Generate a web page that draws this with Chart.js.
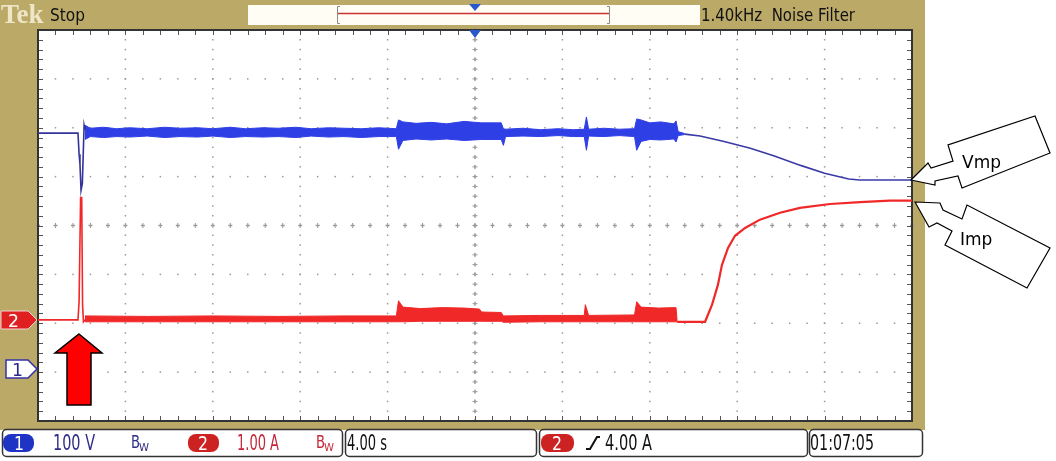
<!DOCTYPE html>
<html>
<head>
<meta charset="utf-8">
<script src="https://cdn.jsdelivr.net/npm/chart.js@4.4.1/dist/chart.umd.min.js"></script>
<style>
  html, body { margin: 0; padding: 0; background: #fff; }
  #scope { display: block; }
</style>
</head>
<body>
<canvas id="scope" width="1056" height="461"></canvas>
<script>
// time in seconds (4.00 s/div, 10 div), ch1 in volts (100 V/div), ch2 in amps (1.00 A/div)
const ch1StepT = [0, 1.83, 1.88, 1.92, 1.97, 2.03, 2.11, 2.15];
const ch1StepV = [483, 483, 440, 420, 366, 380, 499, 490];

const ch1NoiseT  = [2.15, 2.4, 3.0, 3.6, 4.2, 5.0, 5.8, 6.5, 7.3, 8.0, 8.8, 9.5, 10.3, 11.0, 11.8, 12.5, 13.3, 14.0, 14.8, 15.6,
                    16.4, 16.5, 16.7, 17.3, 18.0, 18.7, 19.5, 20.3, 21.2, 21.3, 21.4, 22.2, 23.0, 23.8, 24.5,
                    25.0, 25.1, 25.2, 25.9, 26.6, 27.3, 27.4, 27.6, 28.0, 28.5, 29.1, 29.2, 29.3, 29.6];
const ch1NoiseHi = [499, 493, 495, 492, 494, 492, 495, 493, 494, 492, 495, 492, 494, 493, 495, 492, 494, 493, 492, 494,
                    492, 510, 506, 503, 505, 502, 507, 504, 504, 492, 491, 493, 490, 492, 490,
                    491, 516, 491, 493, 491, 492, 512, 510, 504, 506, 502, 508, 486, 482];
const ch1NoiseLo = [470, 476, 474, 476, 475, 477, 474, 476, 475, 477, 474, 476, 475, 476, 474, 477, 475, 476, 474, 476,
                    476, 450, 468, 471, 469, 471, 468, 470, 470, 458, 476, 477, 476, 478, 476,
                    476, 448, 477, 476, 478, 476, 448, 466, 470, 469, 471, 465, 478, 480];

const ch1SlopeT = [29.6, 30.3, 31.4, 32.6, 33.7, 34.9, 36.0, 37.1, 37.6, 40];
const ch1SlopeV = [481, 477, 466, 452, 436, 417, 401, 389, 387, 387];

const ch2StepT = [0, 1.83, 1.88, 1.95, 2.0, 2.04, 2.08, 2.15];
const ch2StepA = [0, 0, 0.37, 2.50, 2.50, 0.30, -0.04, 0.0];

const ch2NoiseT  = [2.15, 5.0, 8.0, 11.0, 14.0, 16.4, 16.5, 16.7, 17.5, 18.5, 19.5, 20.2, 20.3, 21.2, 21.3, 23.0,
                    25.0, 25.05, 25.2, 27.3, 27.4, 27.6, 28.4, 29.2, 29.25];
const ch2NoiseHi = [0.08, 0.07, 0.08, 0.07, 0.08, 0.08, 0.39, 0.26, 0.23, 0.25, 0.24, 0.22, 0.16, 0.15, 0.08, 0.09,
                    0.09, 0.31, 0.09, 0.10, 0.37, 0.26, 0.24, 0.25, -0.02];
const ch2NoiseLo = [-0.04, -0.04, -0.04, -0.04, -0.04, -0.04, -0.04, -0.04, -0.03, -0.03, -0.03, -0.03, -0.03, -0.03, -0.05, -0.04,
                    -0.04, -0.04, -0.04, -0.04, -0.04, -0.04, -0.04, -0.04, -0.04];

const ch2RiseT = [29.25, 30.53, 30.85, 31.12, 31.30, 31.58, 31.90, 32.36, 33.04, 33.96, 34.87, 36.25, 37.62, 38.99, 40];
const ch2RiseA = [-0.04, -0.04, 0.31, 0.72, 1.12, 1.47, 1.72, 1.88, 2.05, 2.19, 2.29, 2.37, 2.41, 2.44, 2.44];

const TAN = '#bba968';
const BLUE = '#2f3fe6';
const RED = '#f02828';
const FONT = '"DejaVu Sans", sans-serif';

function pts(t, v) {
  return t.map((x, i) => ({ x: x, y: v[i] }));
}

function roundBox(ctx, x, y, w, h, r) {
  ctx.beginPath();
  ctx.roundRect(x, y, w, h, r);
}

function poly(ctx, p) {
  ctx.beginPath();
  ctx.moveTo(p[0][0], p[0][1]);
  for (let i = 1; i < p.length; i++) ctx.lineTo(p[i][0], p[i][1]);
  ctx.closePath();
}

// squeezed text, like the scope's narrow font
function narrow(ctx, txt, x, y, size, width) {
  ctx.font = size + 'px ' + FONT;
  ctx.fillText(txt, x, y, width);
}

const screenPlugin = {
  id: 'screen',
  beforeDraw(chart) {
    const ctx = chart.ctx;
    const a = chart.chartArea;
    ctx.save();
    ctx.fillStyle = '#fff';
    ctx.fillRect(0, 0, chart.width, chart.height);
    ctx.fillStyle = TAN;
    ctx.fillRect(0, 0, 925, 430);
    ctx.fillStyle = '#fff';
    ctx.fillRect(a.left, a.top, a.right - a.left, a.bottom - a.top);
    ctx.restore();
  },
  beforeDatasetsDraw(chart) {
    const ctx = chart.ctx;
    const a = chart.chartArea;
    const dx = (a.right - a.left) / 10;
    const dy = (a.bottom - a.top) / 8;
    ctx.save();
    ctx.fillStyle = '#9a9a9a';
    for (let i = 1; i < 10; i++) {
      if (i === 5) continue;
      const x = a.left + i * dx;
      for (let j = 0; j <= 40; j++) {
        const y = a.top + j * dy / 5;
        ctx.fillRect(x - 0.75, y - 0.75, 1.5, 1.5);
      }
    }
    for (let j = 1; j < 8; j++) {
      if (j === 4) continue;
      const y = a.top + j * dy;
      for (let i = 0; i <= 50; i++) {
        const x = a.left + i * dx / 5;
        ctx.fillRect(x - 0.75, y - 0.75, 1.5, 1.5);
      }
    }
    // centre cross with minor ticks
    const cx = a.left + 5 * dx, cy = a.top + 4 * dy;
    ctx.fillStyle = '#999';
    for (let j = 0; j <= 40; j++) ctx.fillRect(cx - 0.75, a.top + j * dy / 5 - 2, 1.5, 4);
    for (let j = 0; j <= 40; j++) ctx.fillRect(cx - 2.5, a.top + j * dy / 5 - 0.5, 5, 1);
    for (let i = 0; i <= 50; i++) ctx.fillRect(a.left + i * dx / 5 - 2, cy - 0.75, 4, 1.5);
    for (let i = 0; i <= 50; i++) ctx.fillRect(a.left + i * dx / 5 - 0.5, cy - 2.5, 1, 5);
    // edge ticks
    ctx.strokeStyle = '#555';
    ctx.lineWidth = 1;
    ctx.beginPath();
    for (let j = 1; j < 40; j++) {
      const y = Math.round(a.top + j * dy / 5) + 0.5;
      ctx.moveTo(a.left, y); ctx.lineTo(a.left + 5, y);
      ctx.moveTo(a.right, y); ctx.lineTo(a.right - 5, y);
    }
    for (let i = 1; i < 50; i++) {
      const x = Math.round(a.left + i * dx / 5) + 0.5;
      ctx.moveTo(x, a.top); ctx.lineTo(x, a.top + 5);
      ctx.moveTo(x, a.bottom); ctx.lineTo(x, a.bottom - 5);
    }
    ctx.stroke();
    ctx.strokeStyle = '#333';
    ctx.lineWidth = 2;
    ctx.strokeRect(a.left, a.top, a.right - a.left, a.bottom - a.top);
    ctx.restore();
  },
  afterDraw(chart) {
    const ctx = chart.ctx;
    const a = chart.chartArea;
    const cx = (a.left + a.right) / 2;
    ctx.save();
    ctx.textBaseline = 'alphabetic';

    // ---- top bar
    ctx.font = 'bold 27px "Liberation Serif", serif';
    ctx.fillStyle = '#eee6c6';
    ctx.fillText('Tek', 1, 23, 45);
    ctx.fillStyle = '#111';
    narrow(ctx, 'Stop', 50, 21, 17, 35);
    narrow(ctx, '1.40kHz  Noise Filter', 701, 21, 18, 154);

    ctx.fillStyle = '#fffdf4';
    ctx.fillRect(248, 5, 452, 20);
    ctx.strokeStyle = '#8a8a8a';
    ctx.lineWidth = 1;
    ctx.beginPath();
    ctx.moveTo(340, 6.5); ctx.lineTo(337.5, 6.5); ctx.lineTo(337.5, 23.5); ctx.lineTo(340, 23.5);
    ctx.moveTo(607, 6.5); ctx.lineTo(609.5, 6.5); ctx.lineTo(609.5, 23.5); ctx.lineTo(607, 23.5);
    ctx.stroke();
    ctx.strokeStyle = '#cc3333';
    ctx.lineWidth = 1.5;
    ctx.beginPath();
    ctx.moveTo(338, 13.5); ctx.lineTo(609, 13.5);
    ctx.stroke();
    ctx.fillStyle = '#2b58c8';
    poly(ctx, [[cx - 6, 4], [cx + 6, 4], [cx, 11]]); ctx.fill();
    poly(ctx, [[cx - 6, a.top], [cx + 6, a.top], [cx, a.top + 8]]); ctx.fill();

    // ---- left ground markers
    ctx.fillStyle = '#e02020';
    poly(ctx, [[1, 311], [28, 311], [37, 320], [28, 329], [1, 329]]); ctx.fill();
    ctx.strokeStyle = '#f5d0d0'; ctx.lineWidth = 1; ctx.stroke();
    ctx.fillStyle = '#fff';
    narrow(ctx, '2', 8, 327, 18, 11);
    ctx.fillStyle = '#fff';
    poly(ctx, [[6, 360], [28, 360], [37, 369], [28, 378], [6, 378]]); ctx.fill();
    ctx.strokeStyle = '#3434a8'; ctx.lineWidth = 1.5; ctx.stroke();
    ctx.fillStyle = '#28288c';
    narrow(ctx, '1', 12, 376, 18, 11);

    // ---- red arrow
    poly(ctx, [[79, 334], [102, 353], [91, 353], [91, 405], [67, 405], [67, 353], [55, 353]]);
    ctx.fillStyle = '#ff0000'; ctx.fill();
    ctx.strokeStyle = '#000'; ctx.lineWidth = 1.5; ctx.stroke();

    // ---- bottom bar
    ctx.strokeStyle = '#333';
    ctx.lineWidth = 1.5;
    ctx.fillStyle = '#fff';
    [[2, 342], [345, 536], [539, 807], [809, 922]].forEach(b => {
      roundBox(ctx, b[0] + 0.5, 429.5, b[1] - b[0], 27, 4);
      ctx.fill(); ctx.stroke();
    });
    ctx.fillStyle = '#1f33c4';
    roundBox(ctx, 3, 434, 31, 18, 8); ctx.fill();
    ctx.fillStyle = '#cc2222';
    roundBox(ctx, 188, 434, 31, 18, 8); ctx.fill();
    roundBox(ctx, 541, 434, 33, 18, 8); ctx.fill();
    ctx.fillStyle = '#fff';
    narrow(ctx, '1', 14, 450, 20, 10);
    narrow(ctx, '2', 198, 450, 20, 10);
    narrow(ctx, '2', 552, 450, 20, 10);
    ctx.fillStyle = '#2e2e86';
    narrow(ctx, '100 V', 53, 450, 22, 42);
    narrow(ctx, 'B', 131, 448, 17, 9);
    narrow(ctx, 'W', 139, 451, 11, 10);
    ctx.fillStyle = '#c4283a';
    narrow(ctx, '1.00 A', 237, 450, 22, 42);
    narrow(ctx, 'B', 316, 448, 17, 9);
    narrow(ctx, 'W', 324, 451, 11, 10);
    ctx.fillStyle = '#111';
    narrow(ctx, '4.00 s', 347, 450, 22, 40);
    narrow(ctx, '4.00 A', 605, 450, 22, 47);
    narrow(ctx, '01:07:05', 810, 450, 22, 64);
    ctx.strokeStyle = '#111';
    ctx.lineWidth = 2;
    ctx.beginPath();
    ctx.moveTo(586, 449); ctx.lineTo(590, 449); ctx.lineTo(597, 437); ctx.lineTo(600, 437);
    ctx.stroke();

    // ---- callouts
    ctx.lineWidth = 1.2;
    ctx.strokeStyle = '#000';
    ctx.fillStyle = '#fff';
    poly(ctx, [[911, 180], [928, 163], [931, 168], [953, 161], [948, 145], [1035, 116], [1050, 153], [962, 188], [958, 176], [935, 181], [935, 185]]);
    ctx.fill(); ctx.stroke();
    poly(ctx, [[915, 202], [940, 203], [943, 210], [962, 219], [967, 205], [1050, 248], [1027, 288], [945, 245], [952, 231], [937, 223], [929, 227]]);
    ctx.fill(); ctx.stroke();
    ctx.fillStyle = '#000';
    ctx.font = '17px "DejaVu Sans", sans-serif';
    ctx.fillText('Vmp', 962, 168);
    ctx.fillText('Imp', 960, 245);
    ctx.restore();
  }
};

const lineStyle = { pointRadius: 0, tension: 0, borderWidth: 1.6, fill: false };

new Chart(document.getElementById('scope'), {
  type: 'line',
  data: {
    datasets: [
      Object.assign({ data: pts(ch1StepT, ch1StepV), borderColor: '#34349a', yAxisID: 'y1' }, lineStyle),
      Object.assign({}, lineStyle, { data: pts(ch1NoiseT, ch1NoiseHi), borderColor: BLUE, backgroundColor: BLUE, borderWidth: 1, yAxisID: 'y1', fill: '+1' }),
      Object.assign({}, lineStyle, { data: pts(ch1NoiseT, ch1NoiseLo), borderColor: BLUE, borderWidth: 1, yAxisID: 'y1' }),
      Object.assign({ data: pts(ch1SlopeT, ch1SlopeV), borderColor: '#3a3aa6', yAxisID: 'y1' }, lineStyle),
      Object.assign({ data: pts(ch2StepT, ch2StepA), borderColor: RED, yAxisID: 'y2' }, lineStyle),
      Object.assign({}, lineStyle, { data: pts(ch2NoiseT, ch2NoiseHi), borderColor: RED, backgroundColor: RED, borderWidth: 1, yAxisID: 'y2', fill: '+1' }),
      Object.assign({}, lineStyle, { data: pts(ch2NoiseT, ch2NoiseLo), borderColor: RED, borderWidth: 1, yAxisID: 'y2' }),
      Object.assign({}, lineStyle, { data: pts(ch2RiseT, ch2RiseA), borderColor: RED, yAxisID: 'y2', borderWidth: 2.2 })
    ]
  },
  options: {
    responsive: false,
    animation: false,
    devicePixelRatio: 1,
    layout: { padding: { left: 38, top: 30, right: 144, bottom: 40 } },
    plugins: { legend: { display: false }, tooltip: { enabled: false } },
    scales: {
      x: { type: 'linear', min: 0, max: 40, display: false },
      y1: { type: 'linear', min: -106, max: 694, display: false },
      y2: { type: 'linear', min: -2.07, max: 5.93, display: false }
    }
  },
  plugins: [screenPlugin]
});
</script>
</body>
</html>
